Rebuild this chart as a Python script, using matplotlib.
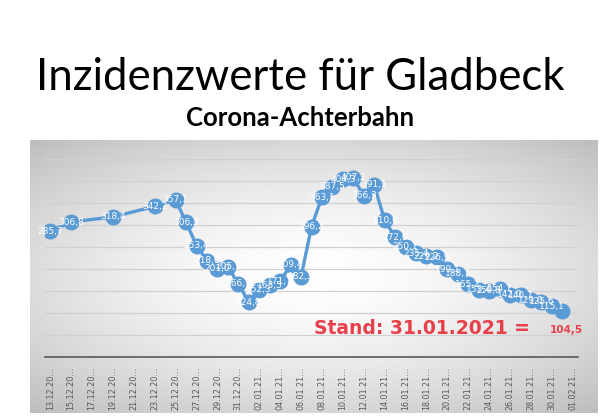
import numpy as np
import pandas as pd
import matplotlib
matplotlib.use("Agg")
import matplotlib.pyplot as plt

# --- data ---
dates = ["13.12.2020", "15.12.2020", "19.12.2020", "23.12.2020", "25.12.2020",
         "26.12.2020", "27.12.2020", "28.12.2020", "29.12.2020", "30.12.2020",
         "31.12.2020", "01.01.2021", "02.01.2021", "03.01.2021", "04.01.2021",
         "05.01.2021", "06.01.2021", "07.01.2021", "08.01.2021", "09.01.2021",
         "10.01.2021", "11.01.2021", "12.01.2021", "13.01.2021", "14.01.2021",
         "15.01.2021", "16.01.2021", "17.01.2021", "18.01.2021", "19.01.2021",
         "20.01.2021", "21.01.2021", "22.01.2021", "23.01.2021", "24.01.2021",
         "25.01.2021", "26.01.2021", "27.01.2021", "28.01.2021", "29.01.2021",
         "30.01.2021", "31.01.2021"]
values = [285.7, 306.8, 318.4, 342.2, 357.1,
          306.3, 253.4, 218.6, 201.0, 205.1,
          166.1, 124.8, 152.3, 163.5, 171.7,
          209.4, 182.3, 296.2, 363.1, 387.5,
          404.3, 407.2, 366.3, 391.1, 310.6,
          272.6, 250.1, 235.4, 229.2, 226.9,
          199.1, 188.7, 165.2, 153.4, 150.8,
          154.7, 142.0, 140.7, 129.0, 125.6,
          115.1, 104.5]
title = "Inzidenzwerte für Gladbeck"
subtitle = "Corona-Achterbahn"
stand_text = "Stand: 31.01.2021 ="
stand_value = "104,5"

x = pd.to_datetime(dates, format="%d.%m.%Y")
blue = "#5b9bd5"

fig = plt.figure(figsize=(6, 4.2), dpi=100)
fig.patch.set_facecolor("white")

# radial gray gradient behind the chart area
bg = fig.add_axes([30 / 600, 1 - 413 / 420, 568 / 600, 273 / 420])
gy, gx = np.mgrid[-1:1:200j, -1:1:300j]
r = np.sqrt(gx ** 2 + (gy * 1.1) ** 2) / np.sqrt(2)
shade = np.clip(1 - 0.24 * r ** 1.6, 0, 1)
bg.imshow(np.dstack([shade] * 3), aspect="auto", extent=[0, 1, 0, 1])
bg.axis("off")

ax = fig.add_axes([45 / 600, 1 - 357 / 420, 533 / 600, 198 / 420])
ax.patch.set_alpha(0)
ax.plot(x, values, color=blue, lw=2.4, marker="o", ms=10.5,
        mfc=blue, mec=blue, zorder=3)
for xi, v in zip(x[:-1], values[:-1]):
    ax.text(xi, v, f"{v:.1f}".replace(".", ","), color="white", fontsize=6.5,
            ha="center", va="center", zorder=4)

ax.set_ylim(0, 450)
ax.set_yticks(np.arange(0, 451, 50))
ax.set_yticklabels([])
ax.grid(axis="y", color="#d0d0d0", lw=0.9)
ax.set_axisbelow(True)

ticks = pd.date_range("2020-12-13", "2021-02-01", freq="2D")
ax.set_xlim(pd.Timestamp("2020-12-13") - pd.Timedelta(hours=12),
            pd.Timestamp("2021-02-01") + pd.Timedelta(hours=12))
ax.set_xticks(ticks)
ax.set_xticklabels([t.strftime("%d.%m.%y")[:8] + "…" for t in ticks],
                   rotation=90, fontsize=5.8, color="#595959")
ax.tick_params(axis="both", length=0, pad=7)
for s in ["top", "right", "left"]:
    ax.spines[s].set_visible(False)
ax.spines["bottom"].set_color("#595959")
ax.spines["bottom"].set_linewidth(1.2)

fig.text(0.5, 1 - 77 / 420, title, ha="center", va="center",
         fontsize=31.5, family="Lato", color="black")
fig.text(0.5, 1 - 118 / 420, subtitle, ha="center", va="center",
         fontsize=18.5, family="Lato", weight="bold", color="black")
fig.text(314 / 600, 1 - 328 / 420, stand_text, ha="left", va="center",
         fontsize=13.5, family="DejaVu Sans", weight="bold", color="#e8404a")
fig.text(566 / 600, 1 - 330 / 420, stand_value, ha="center", va="center",
         fontsize=7.5, family="DejaVu Sans", weight="bold", color="#e8404a")

fig.savefig("out.png", dpi=100)
